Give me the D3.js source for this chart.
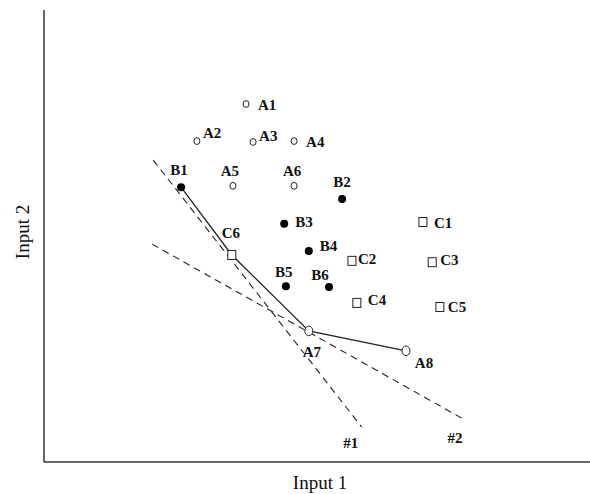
<!DOCTYPE html>
<html>
<head>
  <script type="text/javascript" src="https://d3js.org/d3.v7.min.js"></script>
</head>
<body>
<style type="text/css">
  html,
  body {
    margin: 0px;
    background: #fff;
    overflow: hidden;
  }
  svg {
    display: block;
  }
  .pt-label {
    font-family: "Liberation Serif", "Times New Roman", serif;
    font-weight: bold;
    font-size: 15px;
    fill: #111;
  }
  .axis-title {
    font-family: "Liberation Serif", "Times New Roman", serif;
    font-size: 19px;
    fill: #111;
  }
</style>

<script>
"use strict";

// Data (input space, 0-100 on both axes)
const A_POINTS = [["A1", 37.0, 79.2], ["A2", 28.0, 71.0], ["A3", 38.3, 70.8], ["A4", 45.8, 71.0],
                  ["A5", 34.6, 61.1], ["A6", 45.8, 61.1], ["A7", 48.5, 29.0], ["A8", 66.3, 24.6]];
const B_POINTS = [["B1", 25.1, 60.8], ["B2", 54.6, 58.2], ["B3", 44.0, 52.7],
                  ["B4", 48.5, 46.7], ["B5", 44.3, 38.9], ["B6", 52.2, 38.7]];
const C_POINTS = [["C1", 69.4, 53.1], ["C2", 56.4, 44.5], ["C3", 71.1, 44.2],
                  ["C4", 57.3, 35.2], ["C5", 72.5, 34.3], ["C6", 34.4, 45.8]];
const PATH_NAMES = ["B1", "C6", "A7", "A8"];
const BOUNDARY_1 = [[20.0, 66.8], [58.2, 7.7]];
const BOUNDARY_2 = [[19.8, 48.2], [77.1, 9.3]];
const BOUNDARY_NAMES = ["#1", "#2"];
const X_TITLE = "Input 1";
const Y_TITLE = "Input 2";

// Label placement (offset of text from its point, anchor)
const LABEL_POS = {
  A1: [12, 6, "start"], A2: [6, -3, "start"], A3: [6, -1, "start"], A4: [12, 6, "start"],
  A5: [-3, -10, "middle"], A6: [-2, -10, "middle"], A7: [3, 26, "middle"], A8: [18, 17, "middle"],
  B1: [-2, -12, "middle"], B2: [0, -12, "middle"], B3: [11, 3, "start"], B4: [11, 0, "start"],
  B5: [-2, -9, "middle"], B6: [-9, -7, "middle"],
  C1: [11, 6, "start"], C2: [6, 3, "start"], C3: [8, 3, "start"], C4: [11, 2, "start"],
  C5: [8, 5, "start"], C6: [-1, -17, "middle"]
};

const WIDTH = 590;
const HEIGHT = 494;
const LEFT = 44;
const TOP = 10;
const BOTTOM = 462;

const X_SCALE = d3.scaleLinear().domain([0, 100]).range([LEFT, WIDTH]);
const Y_SCALE = d3.scaleLinear().domain([0, 100]).range([BOTTOM, TOP]);

const SVG = d3.select("body").append("svg")
  .attr("width", WIDTH)
  .attr("height", HEIGHT);

// Axes (plain lines, no ticks)
SVG.append("line")
  .attr("x1", X_SCALE(0)).attr("x2", X_SCALE(0))
  .attr("y1", Y_SCALE(100)).attr("y2", Y_SCALE(0))
  .attr("stroke", "#333").attr("stroke-width", 1.5);
SVG.append("line")
  .attr("x1", X_SCALE(0)).attr("x2", X_SCALE(100))
  .attr("y1", Y_SCALE(0)).attr("y2", Y_SCALE(0))
  .attr("stroke", "#333").attr("stroke-width", 1.5);

SVG.append("text")
  .classed("axis-title", true)
  .attr("x", 320).attr("y", 489)
  .attr("text-anchor", "middle")
  .text(X_TITLE);
SVG.append("text")
  .classed("axis-title", true)
  .attr("transform", "translate(29, 232) rotate(-90)")
  .attr("text-anchor", "middle")
  .text(Y_TITLE);

const line = d3.line()
  .x(function(d) { return X_SCALE(d[0]); })
  .y(function(d) { return Y_SCALE(d[1]); });

// Dashed decision boundaries
[BOUNDARY_1, BOUNDARY_2].forEach(function(b, i) {
  SVG.append("path")
    .attr("d", line(b))
    .attr("fill", "none")
    .attr("stroke", "#222")
    .attr("stroke-width", 1.1)
    .attr("stroke-dasharray", "7,5");
  const end = b[1];
  SVG.append("text")
    .classed("pt-label", true)
    .attr("x", X_SCALE(end[0]) + (i === 0 ? -11 : -10))
    .attr("y", Y_SCALE(end[1]) + (i === 0 ? 21 : 23))
    .attr("text-anchor", "middle")
    .text(BOUNDARY_NAMES[i]);
});

// Solid trajectory
const ALL = A_POINTS.concat(B_POINTS, C_POINTS);
const lookup = {};
ALL.forEach(function(d) { lookup[d[0]] = d; });
SVG.append("path")
  .attr("d", line(PATH_NAMES.map(function(n) { return [lookup[n][1], lookup[n][2]]; })))
  .attr("fill", "none")
  .attr("stroke", "#222")
  .attr("stroke-width", 1.3);

// Class A: open circles
SVG.selectAll(".pt-a").data(A_POINTS).enter()
  .append("ellipse")
  .classed("pt-a", true)
  .attr("cx", function(d) { return X_SCALE(d[1]); })
  .attr("cy", function(d) { return Y_SCALE(d[2]); })
  .attr("rx", function(d) { return d[0] === "A7" || d[0] === "A8" ? 4 : 3; })
  .attr("ry", function(d) { return d[0] === "A7" || d[0] === "A8" ? 4.8 : 3.4; })
  .attr("fill", "#fff")
  .attr("stroke", "#222")
  .attr("stroke-width", 1);

// Class B: filled dots
SVG.selectAll(".pt-b").data(B_POINTS).enter()
  .append("circle")
  .classed("pt-b", true)
  .attr("cx", function(d) { return X_SCALE(d[1]); })
  .attr("cy", function(d) { return Y_SCALE(d[2]); })
  .attr("r", 4)
  .attr("fill", "#000");

// Class C: open squares
SVG.selectAll(".pt-c").data(C_POINTS).enter()
  .append("rect")
  .classed("pt-c", true)
  .attr("x", function(d) { return X_SCALE(d[1]) - 4; })
  .attr("y", function(d) { return Y_SCALE(d[2]) - 4.5; })
  .attr("width", 8)
  .attr("height", 9)
  .attr("fill", "#fff")
  .attr("stroke", "#222")
  .attr("stroke-width", 1);

// Point labels
SVG.selectAll(".pt-label-g").data(ALL).enter()
  .append("text")
  .classed("pt-label", true)
  .attr("x", function(d) { return X_SCALE(d[1]) + LABEL_POS[d[0]][0]; })
  .attr("y", function(d) { return Y_SCALE(d[2]) + LABEL_POS[d[0]][1]; })
  .attr("text-anchor", function(d) { return LABEL_POS[d[0]][2]; })
  .text(function(d) { return d[0]; });
</script>
</body>
</html>
